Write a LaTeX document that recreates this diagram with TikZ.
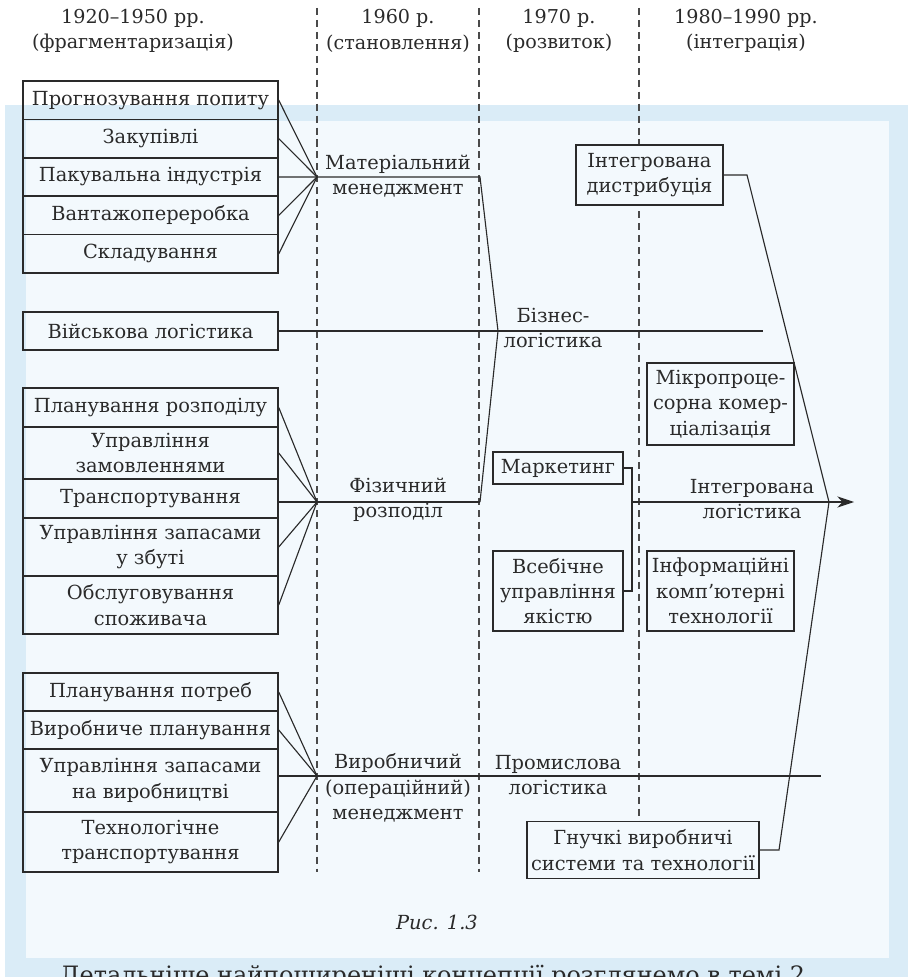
\documentclass[tikz,border=0pt]{standalone}
\usepackage{fontspec}
\setmainfont{DejaVu Serif}
\usetikzlibrary{arrows.meta}
\definecolor{ink}{HTML}{2A2A2A}
\definecolor{band}{HTML}{DAECF7}
\definecolor{paper}{HTML}{F3F9FD}
\newcommand{\basefont}{\fontsize{13.8}{18}\selectfont}

\begin{document}
\begin{tikzpicture}[x=0.025cm, y=-0.025cm, font=\basefont, text=ink,
		item/.style={draw=ink, line width=1pt, rectangle, minimum width=6.375cm, inner sep=0pt, align=center},
		tbox/.style={draw=ink, line width=1pt, rectangle, fill=paper, inner sep=0pt, align=center},
		lbl/.style={align=center, inner sep=0pt},
		wire/.style={draw=ink, line width=0.8pt},
		colsep/.style={draw=ink!85, line width=0.8pt, dash pattern=on 5pt off 3.5pt}]
			\useasboundingbox (0, 0) rectangle (908, 977);
			\fill[white] (0, 0) rectangle (908, 977);
			\fill[band] (5, 105) rectangle (908, 977);
			\fill[paper] (26, 121) rectangle (889, 958);

			\draw[colsep] (317, 8) -- (317, 872);
			\draw[colsep] (479, 8) -- (479, 872);
			\draw[colsep] (639, 8) -- (639, 872);

			\node[lbl, font=\fontsize{13.6}{18}\selectfont] (H1)at(133, 31) {1920–1950 рр.\\(фрагментаризація)};
			\node[lbl, font=\fontsize{13.6}{18}\selectfont] (H2)at(398, 31) {1960 р.\\(становлення)};
			\node[lbl, font=\fontsize{13.6}{18}\selectfont] (H3)at(559, 31) {1970 р.\\(розвиток)};
			\node[lbl, font=\fontsize{13.6}{18}\selectfont] (H4)at(746, 31) {1980–1990 рр.\\(інтеграція)};

			\node[item, minimum height=0.96cm] (P1)at(150.5, 100.2) {Прогнозування попиту};
			\node[item, minimum height=0.96cm] (P2)at(150.5, 138.6) {Закупівлі};
			\node[item, minimum height=0.96cm] (P3)at(150.5, 177) {Пакувальна індустрія};
			\node[item, minimum height=0.96cm] (P4)at(150.5, 215.4) {Вантажопереробка};
			\node[item, minimum height=0.96cm] (P5)at(150.5, 253.8) {Складування};

			\node[item, minimum height=0.95cm] (V)at(150.5, 331) {Військова логістика};

			\node[item, minimum height=0.975cm] (R1)at(150.5, 407.5) {Планування розподілу};
			\node[item, minimum height=1.3cm] (R2)at(150.5, 453) {Управління\\замовленнями};
			\node[item, minimum height=0.975cm] (R3)at(150.5, 498.5) {Транспортування};
			\node[item, minimum height=1.45cm] (R4)at(150.5, 547) {Управління запасами\\у збуті};
			\node[item, minimum height=1.45cm] (R5)at(150.5, 605) {Обслуговування\\споживача};

			\node[item, minimum height=0.95cm] (U1)at(150.5, 692) {Планування потреб};
			\node[item, minimum height=0.95cm] (U2)at(150.5, 730) {Виробниче планування};
			\node[item, minimum height=1.575cm] (U3)at(150.5, 780.5) {Управління запасами\\на виробництві};
			\node[item, minimum height=1.5cm] (U4)at(150.5, 842) {Технологічне\\транспортування};

			\coordinate (m1) at (317, 177);
			\coordinate (m2) at (317, 502);
			\coordinate (m3) at (317, 776);
			\coordinate (c1) at (480, 177);
			\coordinate (b1) at (498, 331);
			\coordinate (c2) at (480, 502);
			\coordinate (be) at (763, 331);
			\coordinate (pe) at (821, 776);
			\coordinate (d1) at (747, 175);
			\coordinate (i1) at (829, 502);
			\coordinate (d2) at (779, 850);
			\coordinate (k1) at (632, 468);
			\coordinate (k2) at (632, 591);
			\coordinate (k3) at (632, 502);
			\coordinate (tip) at (854, 502);

			\draw[wire] (P1.east) -- (m1);
			\draw[wire] (P2.east) -- (m1);
			\draw[wire] (P4.east) -- (m1);
			\draw[wire] (P5.east) -- (m1);
			\draw[wire] (P3.east) -- (m1) -- (c1) -- (b1) -- (c2);
			\draw[wire] (V.east) -- (b1) -- (be);

			\draw[wire] (R1.east) -- (m2);
			\draw[wire] (R2.east) -- (m2);
			\draw[wire] (R4.east) -- (m2);
			\draw[wire] (R5.east) -- (m2);
			\draw[wire] (R3.east |- m2) -- (m2) -- (c2);

			\draw[wire] (U1.east) -- (m3);
			\draw[wire] (U2.east) -- (m3);
			\draw[wire] (U4.east) -- (m3);
			\draw[wire] (U3.east |- m3) -- (m3) -- (pe);

			\node[tbox, minimum width=3.675cm, minimum height=1.5cm] (ID)at(649.5, 175) {Інтегрована\\дистрибуція};
			\node[tbox, minimum width=3.675cm, minimum height=2.05cm] (MP)at(720.5, 404) {Мікропроце-\\сорна комер-\\ціалізація};
			\node[tbox, minimum width=3.25cm, minimum height=0.8cm] (MK)at(558, 468) {Маркетинг};
			\node[tbox, minimum width=3.25cm, minimum height=2cm] (VU)at(558, 591) {Всебічне\\управління\\якістю};
			\node[tbox, minimum width=3.675cm, minimum height=2cm] (IK)at(720.5, 591) {Інформаційні\\комп’ютерні\\технології};
			\node[tbox, minimum width=5.8cm, minimum height=1.425cm] (GV)at(643, 850) {Гнучкі виробничі\\системи та технології};

			\draw[wire] (ID.east) -- (d1) -- (i1) -- (d2) -- (GV.east);
			\draw[wire] (MK.east) -- (k1) -- (k2) -- (VU.east);
			\draw[wire, ->, >={Stealth[length=4.2mm, width=2.8mm]}] (k3) -- (tip);

			\node[lbl] (MM)at(398, 176) {Матеріальний\\менеджмент};
			\node[lbl] (BL)at(553, 328) {Бізнес-\\логістика};
			\node[lbl] (FR)at(398, 500) {Фізичний\\розподіл};
			\node[lbl] (IL)at(752, 499) {Інтегрована\\логістика};
			\node[lbl] (VM)at(398, 788) {Виробничий\\(операційний)\\менеджмент};
			\node[lbl] (PL)at(558, 775) {Промислова\\логістика};

			\node[lbl, font=\basefont\itshape] (CAP)at(437, 922) {Рис. 1.3};
			\node[anchor=base west, inner sep=0pt, font=\fontsize{17}{20}\selectfont] (NX)at(60, 983) {Детальніше найпоширеніші концепції розглянемо в темі 2.};
		\end{tikzpicture}
\end{document}
